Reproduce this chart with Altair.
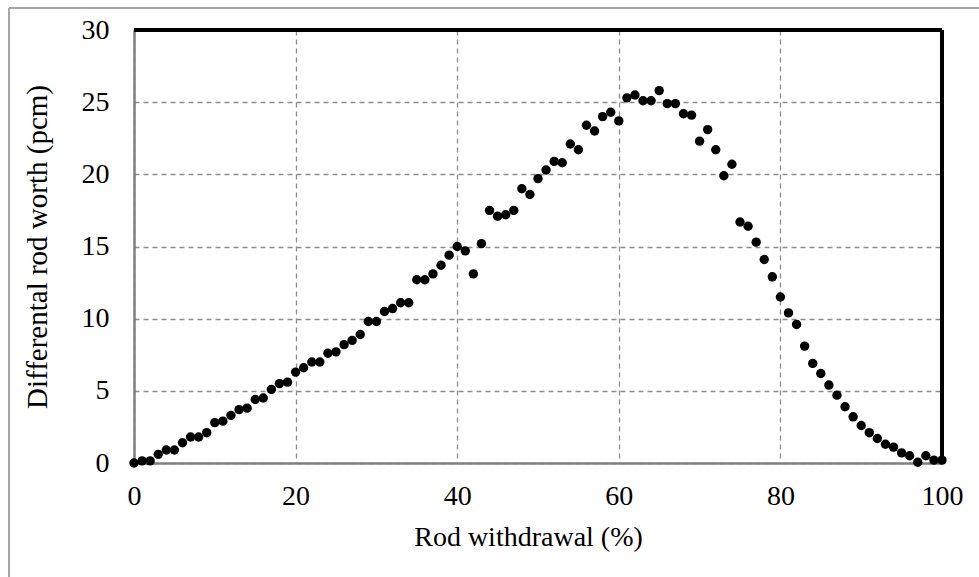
import altair as alt
import pandas as pd

withdrawal = list(range(0, 101))
worth = [
    0.0, 0.15, 0.15, 0.6, 0.9, 0.9, 1.4, 1.8, 1.8, 2.1,
    2.8, 2.9, 3.3, 3.7, 3.8, 4.4, 4.5, 5.1, 5.5, 5.6,
    6.3, 6.6, 7.0, 7.0, 7.6, 7.7, 8.2, 8.5, 8.9, 9.8,
    9.8, 10.5, 10.7, 11.1, 11.1, 12.7, 12.7, 13.1, 13.7, 14.4,
    15.0, 14.7, 13.1, 15.2, 17.5, 17.1, 17.2, 17.5, 19.0, 18.6,
    19.7, 20.3, 20.9, 20.8, 22.1, 21.7, 23.4, 23.0, 24.0, 24.3,
    23.7, 25.3, 25.5, 25.1, 25.1, 25.8, 24.9, 24.9, 24.2, 24.1,
    22.3, 23.1, 21.7, 19.9, 20.7, 16.7, 16.4, 15.3, 14.1, 12.9,
    11.5, 10.4, 9.6, 8.1, 6.9, 6.2, 5.4, 4.7, 3.9, 3.2,
    2.6, 2.1, 1.7, 1.3, 1.1, 0.7, 0.5, 0.05, 0.5, 0.2,
    0.2,
]
x_ticks = [0, 20, 40, 60, 80, 100]
y_ticks = [0, 5, 10, 15, 20, 25, 30]

df = pd.DataFrame({"x": withdrawal, "y": worth})

LEFT, TOP = 134, 30
W, H = 808, 433
FONT = "Liberation Serif"
FS = 28

points = alt.Chart(df).mark_circle(size=88, color="black", opacity=1).encode(
    x=alt.X("x:Q", scale=alt.Scale(domain=[0, 100], nice=False),
            axis=alt.Axis(values=x_ticks, title="Rod withdrawal (%)",
                          grid=True, gridDash=[5, 4], gridColor="#8c8c8c", gridWidth=1.3,
                          domainColor="#808080", domainWidth=2.5, ticks=False,
                          labelFlush=False,
                          labelPadding=19, labelFont=FONT, labelFontSize=FS,
                          labelColor="black", titleFont=FONT, titleFontSize=FS,
                          titleFontWeight="normal", titleColor="black",
                          titleX=394, titleY=74, titleBaseline="middle")),
    y=alt.Y("y:Q", scale=alt.Scale(domain=[0, 30], nice=False),
            axis=alt.Axis(values=y_ticks, title="Differental rod worth (pcm)",
                          grid=True, gridDash=[5, 4], gridColor="#8c8c8c", gridWidth=1.3,
                          domainColor="#808080", domainWidth=2.5, ticks=False,
                          labelFlush=False,
                          labelPadding=25, labelFont=FONT, labelFontSize=FS,
                          labelColor="black", titleFont=FONT, titleFontSize=FS + 1,
                          titleFontWeight="normal", titleColor="black",
                          titleX=-97, titleY=H / 2, titleBaseline="middle")),
)

top_rule = alt.Chart(df).mark_rule(color="black", strokeWidth=2.5).encode(
    x=alt.value(0), x2=alt.value(W), y=alt.value(0)
)
right_rule = alt.Chart(df).mark_rule(color="black", strokeWidth=2.5).encode(
    x=alt.value(W), y=alt.value(0), y2=alt.value(H)
)
frame_top = alt.Chart(df).mark_rule(color="#a6a6a6", strokeWidth=1.5).encode(
    x=alt.value(9 - LEFT), x2=alt.value(979 - LEFT), y=alt.value(8 - TOP)
)
frame_left = alt.Chart(df).mark_rule(color="#a6a6a6", strokeWidth=1.5).encode(
    x=alt.value(9 - LEFT), y=alt.value(8 - TOP), y2=alt.value(577 - TOP)
)

chart = alt.layer(frame_top, frame_left, top_rule, right_rule, points).properties(
    width=W, height=H,
    autosize=alt.AutoSizeParams(type="none"),
    padding={"left": LEFT, "top": TOP, "right": 979 - LEFT - W, "bottom": 577 - TOP - H},
).configure_view(stroke=None).configure(background="white")

chart.save("out.html", embed_options={"renderer": "svg", "actions": False})
